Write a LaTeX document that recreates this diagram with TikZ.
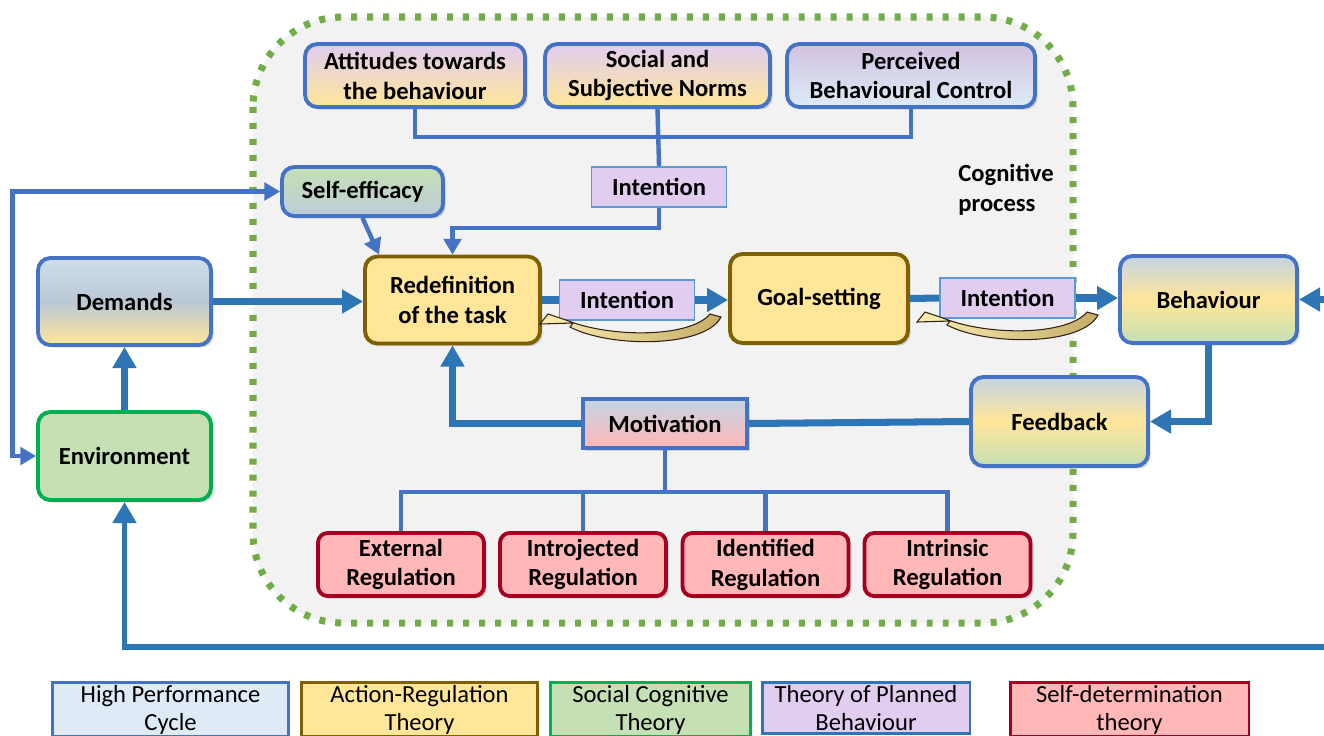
\documentclass[tikz,border=0pt]{standalone}
\usepackage{fontspec}
\setmainfont{Carlito}
\usetikzlibrary{arrows.meta,shadows}
\definecolor{hpcblue}{HTML}{4472C4}
\definecolor{arrowblue}{HTML}{2E75B6}
\definecolor{hpclight}{HTML}{DEEBF7}
\definecolor{steelgray}{HTML}{C4D4E4}
\definecolor{tpbpurple}{HTML}{E0CDF0}
\definecolor{tpbborder}{HTML}{5B9BD5}
\definecolor{artyellow}{HTML}{FFE699}
\definecolor{artbrown}{HTML}{7F6000}
\definecolor{sctgreen}{HTML}{C5E0B4}
\definecolor{sctborder}{HTML}{00B050}
\definecolor{sdtpink}{HTML}{FFB7B7}
\definecolor{sdtred}{HTML}{A50021}
\definecolor{procgray}{HTML}{F2F2F2}
\definecolor{dotgreen}{HTML}{70AD47}
\definecolor{loopdark}{HTML}{C4AD68}
\definecolor{looplight}{HTML}{FCEDB2}
\tikzset{
    model-box/.style = {draw=hpcblue, line width=2.2pt, rectangle, rounded corners=7pt, align=center, font=\fontsize{14}{17}\selectfont\bfseries, drop shadow={shadow xshift=1.5pt, shadow yshift=-1.5pt, opacity=0.3}},
    task-box/.style = {model-box, draw=artbrown, fill=artyellow},
    reg-box/.style = {model-box, draw=sdtred, fill=sdtpink, rounded corners=5.5pt, minimum width=3.32cm, minimum height=1.26cm},
    intent-box/.style = {draw=tpbborder, line width=1pt, fill=tpbpurple, rectangle, font=\fontsize{14}{17}\selectfont\bfseries, minimum width=2.7cm, minimum height=0.8cm},
    legend-box/.style = {rectangle, line width=1.7pt, align=center, anchor=north, inner ysep=1.5pt, font=\fontsize{14}{16}\selectfont},
    process-frame/.style = {draw=dotgreen, line width=4pt, dash pattern=on 3.4pt off 5.7pt, fill=procgray, rounded corners=1.8cm},
    link-thick/.style = {draw=arrowblue, line width=4pt},
    arrow-thick/.style = {link-thick, -{Triangle[length=12pt,width=13pt]}},
    link-thin/.style = {draw=hpcblue, line width=2.5pt},
    arrow-thin/.style = {link-thin, -{Triangle[length=9pt,width=10pt]}},
    back-loop/.pic = {
        \path[draw=black!75!brown, line width=0.6pt, left color=looplight, right color=loopdark]
            (0,0) -- (8,-10) -- (26,-4) .. controls (70,14) and (150,14) .. (170,-10)
            -- (181,-7) .. controls (165,24) and (70,24) .. (30,3) -- (33,-1) -- cycle;
    },
}

\begin{document}
\begin{tikzpicture}[x=0.02cm, y=-0.02cm]
\useasboundingbox (0,0) rectangle (1324,735);
\clip (0,0) rectangle (1324,735);

% cognitive process
\draw[process-frame] (253,17) rectangle (1073,623);
\node[anchor=north west, inner sep=0pt, align=left, font=\fontsize{14}{17}\selectfont\bfseries] (cogproc) at (958,164) {Cognitive\\process};

% theory of planned behaviour
\node[model-box, minimum width=4.4cm, minimum height=1.26cm, top color=tpbpurple, bottom color=artyellow] (attitudes) at (415,75.5) {Attitudes towards\\the behaviour};
\node[model-box, minimum width=4.5cm, minimum height=1.26cm, top color=tpbpurple, bottom color=artyellow] (norms) at (657.5,75.5) {Social and\\Subjective Norms};
\node[model-box, minimum width=4.96cm, minimum height=1.26cm, top color=tpbpurple!85!gray, bottom color=hpclight] (control) at (911,75.5) {Perceived\\Behavioural Control};
\node[intent-box] (intentTop) at (659,187) {Intention};
\node[model-box, minimum width=3.22cm, minimum height=0.98cm, top color=sctgreen, bottom color=steelgray!90!gray] (selfeff) at (362.5,191.5) {Self-efficacy};

% main cycle
\node[model-box, minimum width=3.46cm, minimum height=1.74cm, top color=steelgray!80!white, bottom color=artyellow, middle color=steelgray!85!gray] (demands) at (124.5,301.5) {Demands};
\node[model-box, draw=sctborder, fill=sctgreen, minimum width=3.46cm, minimum height=1.76cm] (env) at (124.5,456) {Environment};
\node[task-box, minimum width=3.5cm, minimum height=1.74cm] (redef) at (452.5,300) {Redefinition\\of the task};
\node[intent-box] (intentMid) at (627,300) {Intention};
\node[task-box, minimum width=3.56cm, minimum height=1.78cm] (goal) at (819,298.5) {Goal-setting};
\node[intent-box] (intentRight) at (1007.5,298) {Intention};
\node[model-box, minimum width=3.54cm, minimum height=1.74cm, top color=steelgray, bottom color=sctgreen, middle color=artyellow] (behaviour) at (1208.5,299.5) {Behaviour};
\node[model-box, minimum width=3.54cm, minimum height=1.78cm, top color=steelgray, bottom color=sctgreen, middle color=artyellow] (feedback) at (1059.5,421.5) {Feedback};
\node[model-box, rounded corners=0pt, minimum width=3.28cm, minimum height=0.98cm, top color=steelgray, bottom color=sdtpink] (motivation) at (665,423.5) {Motivation};

% self-determination
\node[reg-box] (external) at (401,564.5) {External\\Regulation};
\node[reg-box] (introjected) at (583,564.5) {Introjected\\Regulation};
\node[reg-box] (identified) at (765.5,564.5) {Identified\\Regulation};
\node[reg-box] (intrinsic) at (947.5,564.5) {Intrinsic\\Regulation};

% links
\coordinate (normsbus) at (659,137);
\draw[link-thin] (attitudes.south) |- (normsbus) -| (control.south);
\draw[link-thin] (norms.south) -- (intentTop.north);
\draw[arrow-thin] (intentTop.south) -- ++(0,20) -| (redef.north);
\draw[arrow-thin] (selfeff.south) -- ([xshift=0.32cm]redef.north west);
\draw[link-thin, line width=2.8pt, {Triangle[length=9pt,width=10pt]}-{Triangle[length=9pt,width=10pt]}] (env.west) -- ++(-24,0) |- (selfeff.west);

\draw[arrow-thick] (env.north) -- (demands.south);
\draw[arrow-thick] (demands.east) -- (redef.west |- demands.east);
\draw[link-thick] (redef.east) -- (intentMid.west);
\draw[arrow-thick] (intentMid.east) -- (goal.west |- intentMid.east);
\draw[link-thick] (goal.east) -- (intentRight.west);
\draw[arrow-thick] (intentRight.east) -- (behaviour.west |- intentRight.east);
\coordinate (rightin) at (1330,299.5);
\draw[arrow-thick] (rightin) -- (behaviour.east);
\draw[arrow-thick] (behaviour.south) |- (feedback.east);
\draw[link-thick] (feedback.west) -- (motivation.east);
\draw[arrow-thick] (motivation.west) -| (redef.south);
\coordinate (rightout) at (1330,647);
\draw[arrow-thick, line width=3.4pt] (rightout) -| (env.south);

\foreach \reg in {external,introjected,identified,intrinsic}
    \draw[link-thin] (motivation.south) -- ++(0,42) -| (\reg.north);

% feedback loops between steps
\pic at (540,324) {back-loop};
\pic at (917,322) {back-loop};

% legend
\node[legend-box, draw=hpcblue, fill=hpclight, minimum width=4.74cm] (legHpc) at (170.5,681) {High Performance\\Cycle};
\node[legend-box, draw=artbrown, fill=artyellow, minimum width=4.74cm] (legArt) at (419.5,681) {Action-Regulation\\Theory};
\node[legend-box, draw=sctborder, fill=sctgreen, minimum width=4.02cm] (legSct) at (650.5,681) {Social Cognitive\\Theory};
\node[legend-box, draw=arrowblue, fill=tpbpurple, minimum width=4.16cm] (legTpb) at (866,681) {Theory of Planned\\Behaviour};
\node[legend-box, draw=sdtred, fill=sdtpink, minimum width=4.78cm] (legSdt) at (1129.5,681) {Self-determination\\theory};
\end{tikzpicture}
\end{document}
